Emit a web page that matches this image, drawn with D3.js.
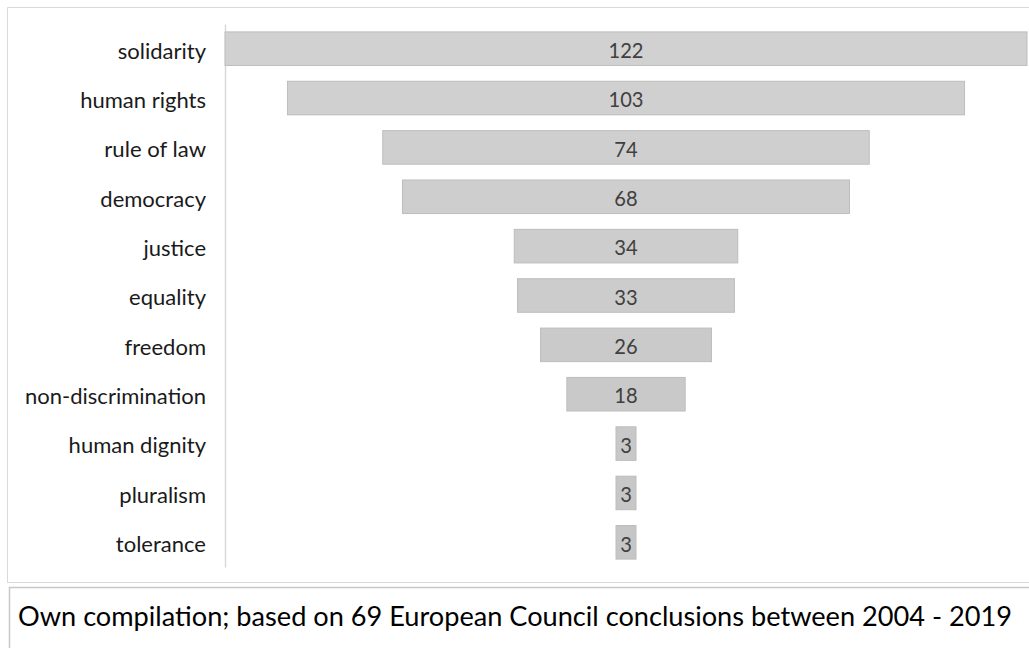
<!DOCTYPE html>
<html>
<head>
<meta charset="utf-8">
<script src="https://cdn.jsdelivr.net/npm/d3@7"></script>
<style>
  html, body { margin: 0; padding: 0; background: #fff; }
  svg { display: block; }
</style>
</head>
<body>
<svg id="chart" width="1029" height="648"></svg>
<script>
const categories = ["solidarity", "human rights", "rule of law", "democracy", "justice", "equality", "freedom", "non-discrimination", "human dignity", "pluralism", "tolerance"];
const values = [122, 103, 74, 68, 34, 33, 26, 18, 3, 3, 3];
const caption = "Own compilation; based on 69 European Council conclusions between 2004 - 2019";

const FONT = "Lato, 'Open Sans', sans-serif";
const svg = d3.select("#chart");

// measuring helper: fit reference text widths while keeping glyph height
const ctx = document.createElement("canvas").getContext("2d");
function measure(text, size) {
  ctx.font = size + "px " + FONT;
  return ctx.measureText(text).width;
}
const labelSize = 22, valueSize = 21, captionSize = 27;
const kLabel = 181 / measure("non-discrimination", labelSize);
const kValue = 35 / measure("122", valueSize);
const kCaption = 994 / measure(caption, captionSize);
function squeeze(sel, size, k) {
  sel.attr("font-family", FONT).attr("font-size", size)
    .attr("lengthAdjust", "spacingAndGlyphs")
    .attr("textLength", function () { return measure(this.textContent, size) * k; });
}

// frames (right and bottom edges run past the picture, so only visible sides are drawn)
svg.append("path").attr("d", "M1029,7.5H7.5V582.5H1029")
  .attr("fill", "none").attr("stroke", "#d9d9d9").attr("stroke-width", 1);
svg.append("path").attr("d", "M1029,587.5H9.5V648")
  .attr("fill", "none").attr("stroke", "#c8c8c8").attr("stroke-width", 1.5);

const cx = 626;
const x = d3.scaleLinear().domain([0, 122]).range([0, 802]);
const y = d3.scaleBand().domain(categories).range([24, 567]).paddingInner(0.32).paddingOuter(0.16);

// axis
const yAxis = d3.axisLeft(y).tickSize(0).tickPadding(19);
const gAxis = svg.append("g").attr("transform", "translate(225,0)").call(yAxis);
gAxis.select(".domain").attr("stroke", "#d9d9d9").attr("stroke-width", 1.5);
gAxis.selectAll("text").attr("fill", "#1a1a1a").attr("dy", "0.45em")
  .call(squeeze, labelSize, kLabel);

const colour = d3.interpolateRgb("#d1d1d1", "#c6c6c6");
const data = categories.map((c, i) => ({ c, v: values[i], i }));

svg.append("g").selectAll("rect").data(data).join("rect")
  .attr("x", d => cx - Math.max(x(d.v), 20) / 2)
  .attr("y", d => y(d.c))
  .attr("width", d => Math.max(x(d.v), 20))
  .attr("height", y.bandwidth())
  .attr("fill", d => colour(d.i / (categories.length - 1)))
  .attr("stroke", "#bdbdbd").attr("stroke-width", 1);

svg.append("g").selectAll("text").data(data).join("text")
  .attr("x", cx)
  .attr("y", d => y(d.c) + y.bandwidth() / 2)
  .attr("dy", "0.44em")
  .attr("text-anchor", "middle")
  .attr("fill", "#404040")
  .text(d => d.v)
  .call(squeeze, valueSize, kValue);

svg.append("text").attr("x", 515).attr("y", 626)
  .attr("text-anchor", "middle")
  .attr("fill", "#000")
  .text(caption)
  .call(squeeze, captionSize, kCaption);
</script>
</body>
</html>
